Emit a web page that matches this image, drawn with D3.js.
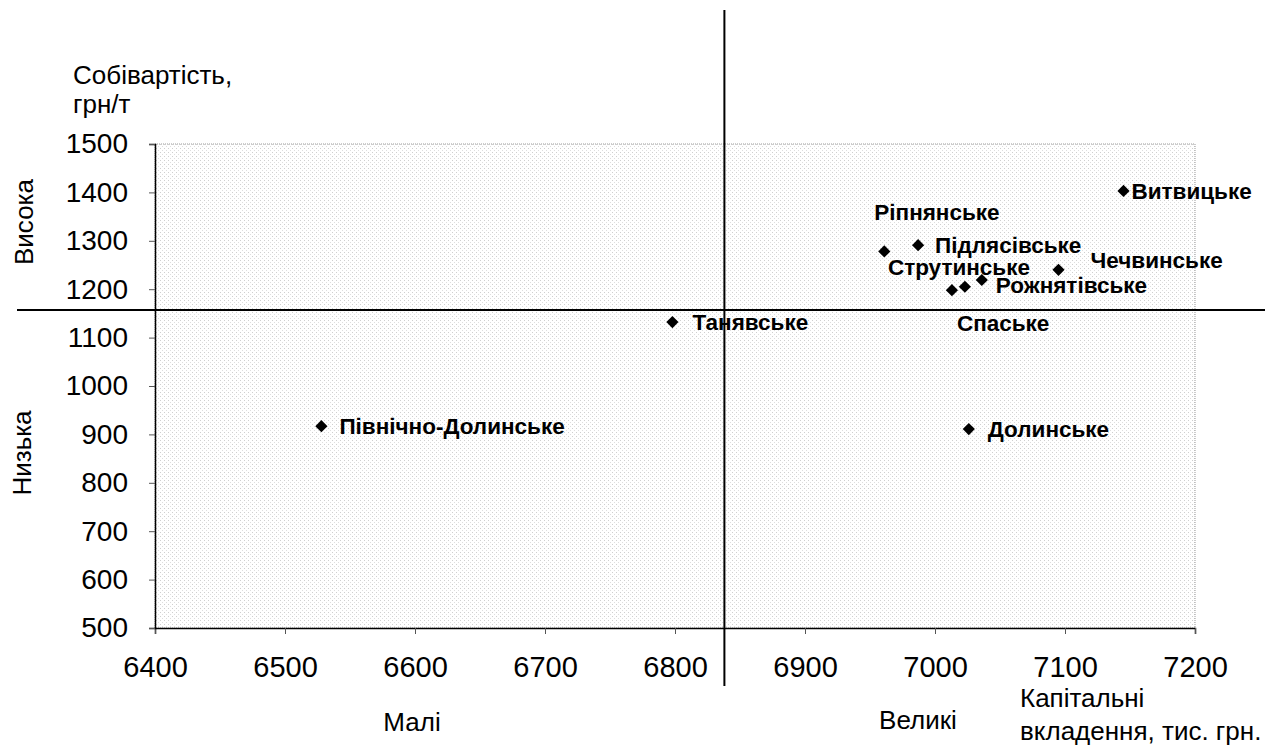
<!DOCTYPE html>
<html>
<head>
<meta charset="utf-8">
<script src="https://cdn.jsdelivr.net/npm/d3@7"></script>
<style>
  html, body { margin: 0; padding: 0; background: #fff; }
  svg { display: block; font-family: Arial, "Liberation Sans", sans-serif; }
</style>
</head>
<body>
<svg id="chart" width="1265" height="746"></svg>
<script>
// Родовища: капітальні вкладення (тис. грн) та собівартість (грн/т)
const fields = ["Північно-Долинське", "Танявське", "Долинське", "Витвицьке",
                "Ріпнянське", "Підлясівське", "Чечвинське", "Струтинське",
                "Спаське", "Рожнятівське"];
const investment = [6528, 6798, 7026, 7145, 6961, 6987, 7095, 7013, 7023, 7036];
const costPrice  = [917, 1132, 911, 1403, 1278, 1291, 1240, 1198, 1205, 1219];

// Межі квадрантів
const investmentSplit = [6838];
const costSplit = [1157];

const xTicks = [6400, 6500, 6600, 6700, 6800, 6900, 7000, 7100, 7200];
const yTicks = [500, 600, 700, 800, 900, 1000, 1100, 1200, 1300, 1400, 1500];

const svg = d3.select("#chart");
const W = 1265, H = 746;
const plot = { left: 155, right: 1195, top: 144, bottom: 628 };
const FONT = "Arial, 'Liberation Sans', sans-serif";

const x = d3.scaleLinear().domain([6400, 7200]).range([plot.left, plot.right]);
const y = d3.scaleLinear().domain([500, 1500]).range([plot.bottom, plot.top]);

// сіра зерниста заливка області побудови
const defs = svg.append("defs");
const pat = defs.append("pattern").attr("id", "grain")
  .attr("width", 4).attr("height", 4).attr("patternUnits", "userSpaceOnUse");
pat.append("rect").attr("width", 4).attr("height", 4).attr("fill", "#fff");
pat.append("rect").attr("x", 0).attr("y", 0).attr("width", 1).attr("height", 1).attr("fill", "#cfcfcf");
pat.append("rect").attr("x", 2).attr("y", 2).attr("width", 1).attr("height", 1).attr("fill", "#dedede");

svg.append("rect")
  .attr("x", plot.left).attr("y", plot.top)
  .attr("width", plot.right - plot.left).attr("height", plot.bottom - plot.top)
  .attr("fill", "url(#grain)")
  .attr("stroke", "#9a9a9a").attr("stroke-width", 1).attr("stroke-dasharray", "1,1");

// осі
const xAxis = d3.axisBottom(x).tickValues(xTicks).tickSize(6).tickPadding(22)
  .tickFormat(d3.format("d"));
const gx = svg.append("g").attr("transform", `translate(0,${plot.bottom})`).call(xAxis);
gx.select(".domain").attr("stroke", "#000").attr("stroke-width", 1.5);
gx.selectAll(".tick line").attr("stroke", "#555");
gx.selectAll(".tick text").attr("font-size", 29).attr("fill", "#000").attr("font-family", FONT);

const yAxis = d3.axisLeft(y).tickValues(yTicks).tickSize(6).tickPadding(21)
  .tickFormat(d3.format("d"));
const gy = svg.append("g").attr("transform", `translate(${plot.left},0)`).call(yAxis);
gy.select(".domain").attr("stroke", "#000").attr("stroke-width", 1.5);
gy.selectAll(".tick line").attr("stroke", "#555");
gy.selectAll(".tick text").attr("font-size", 28).attr("fill", "#000").attr("font-family", FONT);

// лінії поділу на квадранти
svg.selectAll(".vsplit").data(investmentSplit).enter().append("line")
  .attr("x1", d => x(d)).attr("x2", d => x(d))
  .attr("y1", 10).attr("y2", 686)
  .attr("stroke", "#000").attr("stroke-width", 2);
svg.selectAll(".hsplit").data(costSplit).enter().append("line")
  .attr("x1", 17).attr("x2", W)
  .attr("y1", d => y(d)).attr("y2", d => y(d))
  .attr("stroke", "#000").attr("stroke-width", 2);

// точки
const points = fields.map((name, i) => ({ name, inv: investment[i], cost: costPrice[i] }));
const diamond = d3.symbol().type(d3.symbolSquare).size(74);
svg.selectAll(".pt").data(points).enter().append("path")
  .attr("d", diamond)
  .attr("transform", d => `translate(${x(d.inv)},${y(d.cost)}) rotate(45)`)
  .attr("fill", "#000");

// підписи точок (зміщення від маркера, px)
const labelShift = {
  "Північно-Долинське": [18, 0], "Танявське": [20, 0], "Долинське": [19, 0],
  "Витвицьке": [8, 0], "Ріпнянське": [-10, -39], "Підлясівське": [17, 0],
  "Чечвинське": [32, -10], "Струтинське": [-64, -23], "Спаське": [-8, 36],
  "Рожнятівське": [14, 5]
};
svg.selectAll(".lbl").data(points).enter().append("text")
  .attr("x", d => x(d.inv) + labelShift[d.name][0])
  .attr("y", d => y(d.cost) + labelShift[d.name][1])
  .attr("dy", "0.35em")
  .attr("font-size", 22.5).attr("font-weight", "bold")
  .text(d => d.name);

// назви осей і квадрантів
const txt = (s, xx, yy, opts = {}) => svg.append("text")
  .attr("x", xx).attr("y", yy).attr("font-size", opts.size || 26)
  .attr("text-anchor", opts.anchor || "start")
  .attr("transform", opts.rotate ? `rotate(-90,${xx},${yy})` : null)
  .attr("dy", "0.35em").text(s);

txt("Собівартість,", 73, 75);
txt("грн/т", 73, 104);
txt("Висока", 24, 222, { anchor: "middle", rotate: true });
txt("Низька", 22, 453, { anchor: "middle", rotate: true });
txt("Малі", 412, 722, { anchor: "middle" });
txt("Великі", 918, 720, { anchor: "middle" });
txt("Капітальні", 1020, 698);
txt("вкладення, тис. грн.", 1020, 731);
</script>
</body>
</html>
